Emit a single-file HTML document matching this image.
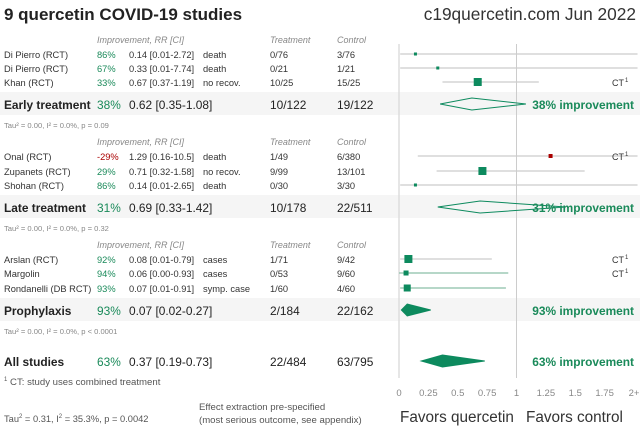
<!DOCTYPE html>
<html><head><meta charset="utf-8"><style>
body{margin:0;background:#fff}
svg{display:block;font-family:"Liberation Sans",sans-serif}
</style></head><body>
<svg id="c" width="640" height="430" xmlns="http://www.w3.org/2000/svg">
<text x="4" y="20" font-size="17" font-weight="bold" fill="#222">9 quercetin COVID-19 studies</text>
<text x="636" y="20" font-size="17.3" fill="#333" text-anchor="end">c19quercetin.com Jun 2022</text>
<g id="bands"></g>
<line x1="399" y1="44" x2="399" y2="378" stroke="#ddd" stroke-width="1.5"/>
<line x1="516.5" y1="44" x2="516.5" y2="378" stroke="#ccc"/>
<g id="rows"></g>
<g id="axis"></g>
<text x="4" y="385" font-size="9.6" fill="#555"><tspan font-size="6" dy="-4">1</tspan><tspan dy="4"> CT: study uses combined treatment</tspan></text>
<text x="4" y="422" font-size="9.3" fill="#555">Tau<tspan font-size="6" dy="-4">2</tspan><tspan dy="4"> = 0.31, I</tspan><tspan font-size="6" dy="-4">2</tspan><tspan dy="4"> = 35.3%, p = 0.0042</tspan></text>
<text x="199" y="410" font-size="9.6" fill="#555">Effect extraction pre-specified</text>
<text x="199" y="423" font-size="9.6" fill="#555">(most serious outcome, see appendix)</text>
<text x="400" y="422" font-size="15.3" fill="#333">Favors quercetin</text>
<text x="526" y="422" font-size="15.3" fill="#333">Favors control</text>
</svg>
<script>
const names=["Di Pierro (RCT)","Di Pierro (RCT)","Khan (RCT)","Onal (RCT)","Zupanets (RCT)","Shohan (RCT)","Arslan (RCT)","Margolin","Rondanelli (DB RCT)"];
const rr=[0.14,0.33,0.67,1.29,0.71,0.14,0.08,0.06,0.07];
const lo=[0.01,0.01,0.37,0.16,0.32,0.01,0.01,0.00,0.01];
const hi=[2.72,7.74,1.19,10.5,1.58,2.65,0.79,0.93,0.91];
const outcomes=["death","death","no recov.","death","no recov.","death","cases","cases","symp. case"];
const treat=["0/76","0/21","10/25","1/49","9/99","0/30","1/71","0/53","1/60"];
const ctrl=["3/76","1/21","15/25","6/380","13/101","3/30","9/42","9/60","4/60"];
const sizes=[3,3,8,4,8,3,8,5,7];
const ct=[false,false,true,true,false,false,true,true,false];
const groupNames=["Early treatment","Late treatment","Prophylaxis","All studies"];
const gRR=[0.62,0.69,0.07,0.37];
const gLo=[0.35,0.33,0.02,0.19];
const gHi=[1.08,1.42,0.27,0.73];
const gTreat=["10/122","10/178","2/184","22/484"];
const gCtrl=["19/122","22/511","22/162","63/795"];
const gTau=["Tau² = 0.00, I² = 0.0%, p = 0.09","Tau² = 0.00, I² = 0.0%, p = 0.32","Tau² = 0.00, I² = 0.0%, p < 0.0001",""];
const ticks=[0,0.25,0.5,0.75,1,1.25,1.5,1.75,2];
const tickLabels=["0","0.25","0.5","0.75","1","1.25","1.5","1.75","2+"];
const X=v=>399+117.5*Math.min(v,2.03);
const NS="http://www.w3.org/2000/svg";
function mk(p,t,a,txt){const e=document.createElementNS(NS,t);for(const k in a)e.setAttribute(k,a[k]);if(txt!==undefined)e.textContent=txt;p.appendChild(e);return e;}
const rows=document.getElementById('rows'),bands=document.getElementById('bands'),axis=document.getElementById('axis');
const pct=v=>Math.round((1-v)*100)+"%";
const fmt=v=>v.toFixed(2);
const FS=9.3,GS=11.9;
const hdrY=[43,145,248];const rowY=[[54,68,82],[156,171,185],[259,273,288]];const gY=[104,207,310,361];
for(let g=0;g<3;g++){
 const y=hdrY[g];
 let h=mk(rows,'text',{x:97,y:y,'font-size':9,'font-style':'italic',fill:'#888'},"Improvement, RR [CI]");
 
 h=mk(rows,'text',{x:270,y:y,'font-size':9,'font-style':'italic',fill:'#888'},"Treatment");
 
 h=mk(rows,'text',{x:337,y:y,'font-size':9,'font-style':'italic',fill:'#888'},"Control");
 
 for(let j=0;j<3;j++){
  const i=g*3+j,yy=rowY[g][j],ty=yy+4;
  const gr=mk(rows,'g',{});
  
  
  mk(gr,'text',{x:4,y:ty,'font-size':FS,fill:'#333'},names[i]);
  mk(gr,'text',{x:97,y:ty,'font-size':FS,fill:rr[i]>1?'#a00':'#1a8a5a'},pct(rr[i]));
  mk(gr,'text',{x:129,y:ty,'font-size':FS,fill:'#333'},fmt(rr[i])+" ["+fmt(lo[i])+"-"+(hi[i]>=10?hi[i].toFixed(1):fmt(hi[i]))+"]");
  mk(gr,'text',{x:203,y:ty,'font-size':FS,fill:'#333'},outcomes[i]);
  mk(gr,'text',{x:270,y:ty,'font-size':FS,fill:'#333'},treat[i]);
  mk(gr,'text',{x:337,y:ty,'font-size':FS,fill:'#333'},ctrl[i]);
  const ci=mk(gr,'line',{x1:X(lo[i]),x2:X(hi[i]),y1:yy,y2:yy,stroke:(i==7||i==8)?'#8bbfa8':'#ccc','stroke-width':1.2});
  
  const s=sizes[i];
  const sq=mk(gr,'rect',{x:X(rr[i])-s/2,y:yy-s/2,width:s,height:s,fill:rr[i]>1?'#a00':'#0d8a5e'});
  
  if(ct[i]){const c=mk(gr,'text',{x:624,y:ty,'font-size':9,fill:'#333','text-anchor':'end'},"CT");
   mk(gr,'text',{x:625,y:ty-4,'font-size':6,fill:'#333'},"1");}
 }
}
for(let g=0;g<4;g++){
 const y=gY[g];
 if(g<3){const b=mk(bands,'rect',{x:0,y:y-12,width:640,height:23,fill:'#f5f5f5'});}
 const gr=mk(rows,'g',{});
 
 
 mk(gr,'text',{x:4,y:y+5,'font-size':GS,'font-weight':'bold',fill:'#222'},groupNames[g]);
 mk(gr,'text',{x:97,y:y+5,'font-size':GS,fill:'#1a8a5a'},pct(gRR[g]));
 mk(gr,'text',{x:129,y:y+5,'font-size':GS,fill:'#222'},fmt(gRR[g])+" ["+fmt(gLo[g])+"-"+fmt(gHi[g])+"]");
 mk(gr,'text',{x:270,y:y+5,'font-size':GS,fill:'#222'},gTreat[g]);
 mk(gr,'text',{x:337,y:y+5,'font-size':GS,fill:'#222'},gCtrl[g]);
 const filled=g>=2;
 const d=mk(gr,'polygon',{points:`${X(gLo[g])},${y} ${X(gRR[g])},${y-6} ${X(gHi[g])},${y} ${X(gRR[g])},${y+6}`,fill:filled?'#0d8a5e':'none',stroke:'#0d8a5e','stroke-width':1});
 
 const t=mk(gr,'text',{x:634,y:y+5,'font-size':GS,'font-weight':'bold',fill:'#1a8a5a','text-anchor':'end'},pct(gRR[g])+" improvement");
 
 if(gTau[g]){const tt=mk(gr,'text',{x:4,y:y+24,'font-size':7.6,fill:'#888'},gTau[g]);}
}
ticks.forEach((v,k)=>{
 const t=mk(axis,'text',{x:X(v),y:396,'font-size':9.5,fill:'#888','text-anchor':'middle'},tickLabels[k]);
 
 
});
</script>
</body></html>
